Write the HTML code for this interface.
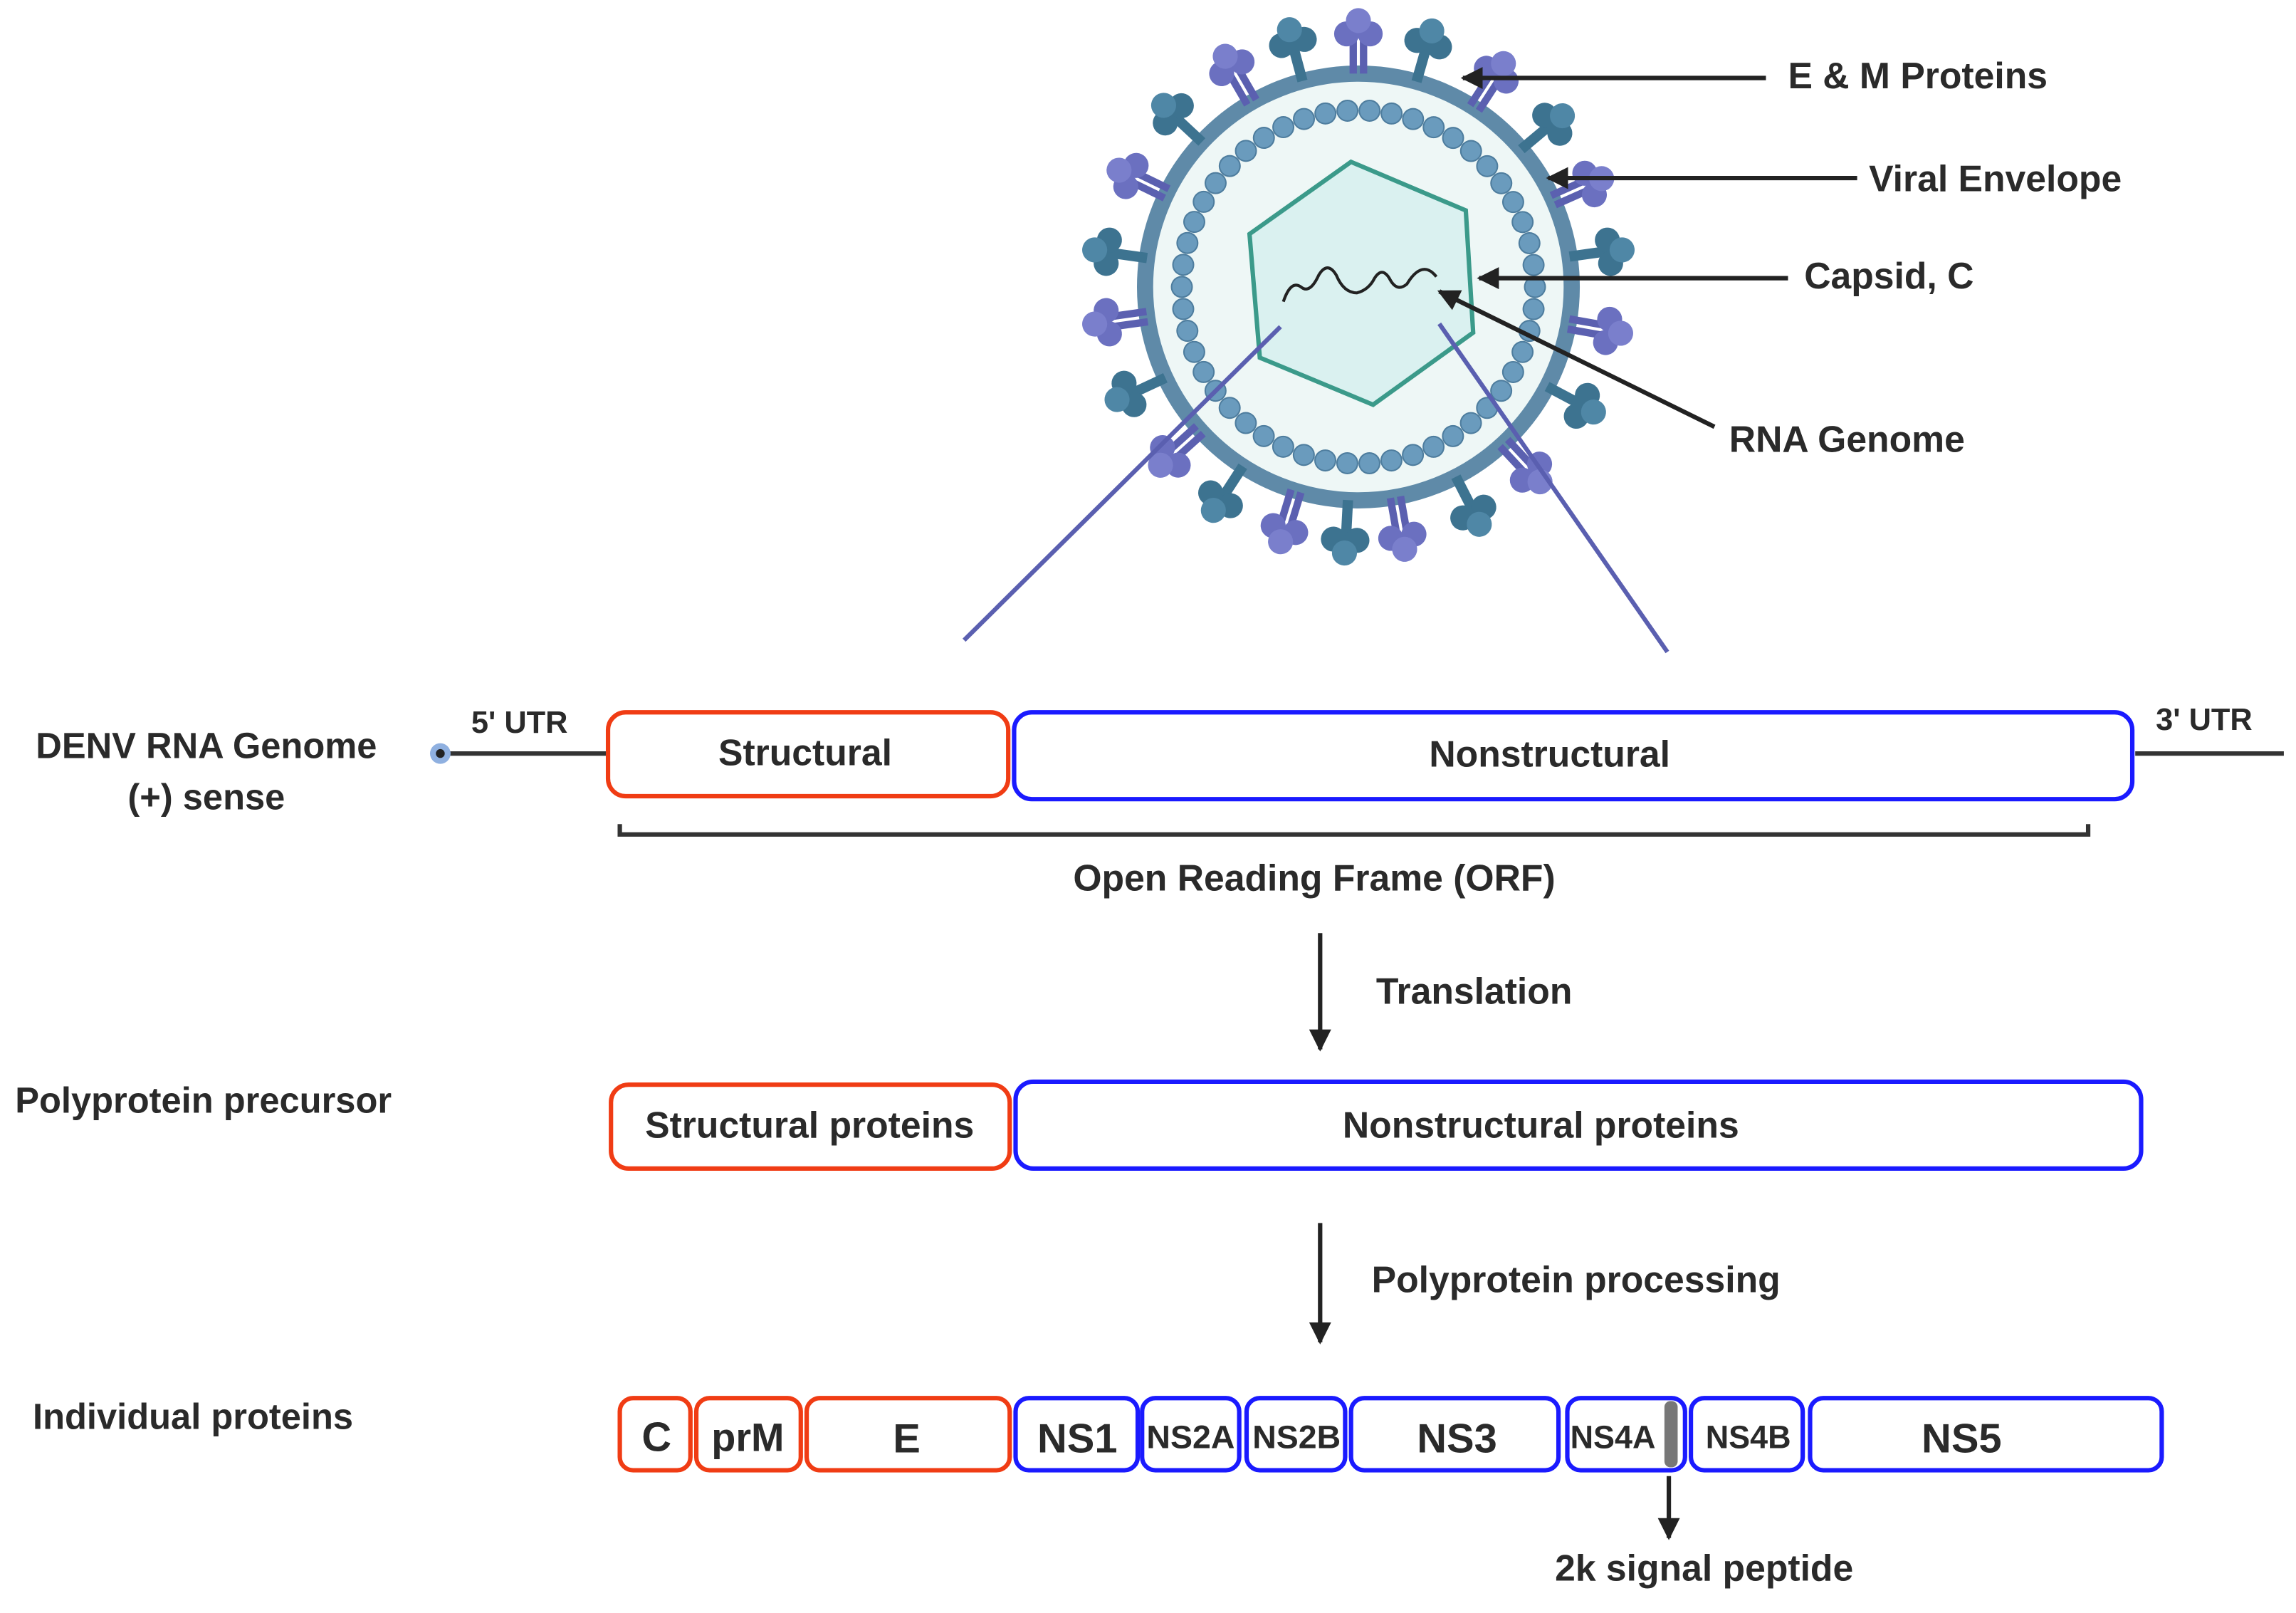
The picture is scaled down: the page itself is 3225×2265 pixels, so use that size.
<!DOCTYPE html>
<html><head><meta charset="utf-8"><style>
html,body{margin:0;padding:0;background:#fff}
svg{display:block}
text{font-family:"Liberation Sans",sans-serif;font-weight:bold;fill:#2a2a2a}
</style></head><body>
<svg width="3225" height="2265" viewBox="0 0 1560 1096" xmlns="http://www.w3.org/2000/svg">
<defs>
<marker id="ah" viewBox="0 0 10 10" refX="9" refY="5" markerWidth="5" markerHeight="5" orient="auto-start-reverse"><path d="M0,0 L10,5 L0,10 z" fill="#222"/></marker>
<g id="spT"><rect x="919" y="22" width="7" height="28" fill="#3d7390"/><circle cx="915" cy="23" r="8.5" fill="#3d7390"/><circle cx="931" cy="23" r="8.5" fill="#3d7390"/><circle cx="923" cy="14" r="8.5" fill="#4f87a6"/></g>
<g id="spP"><rect x="917" y="22" width="5" height="28" fill="#5b60b0"/><rect x="924" y="22" width="5" height="28" fill="#5b60b0"/><circle cx="915" cy="23" r="8.5" fill="#6b70c0"/><circle cx="931" cy="23" r="8.5" fill="#6b70c0"/><circle cx="923" cy="14" r="8.5" fill="#7a7fcc"/></g>
</defs>
<!-- virus -->
<circle cx="923" cy="195" r="145" fill="#eef7f6" stroke="#5f8aa8" stroke-width="11"/>
<circle cx="923" cy="195" r="120" fill="none" stroke="#4e7d9e" stroke-width="15" stroke-linecap="round" stroke-dasharray="0 15.08"/>
<circle cx="923" cy="195" r="120" fill="none" stroke="#6a9bbd" stroke-width="13" stroke-linecap="round" stroke-dasharray="0 15.08"/>
<g>
<use href="#spP" transform="rotate(0 923 195)"/>
<use href="#spT" transform="rotate(16 923 195)"/>
<use href="#spP" transform="rotate(33 923 195)"/>
<use href="#spT" transform="rotate(50 923 195)"/>
<use href="#spP" transform="rotate(66 923 195)"/>
<use href="#spT" transform="rotate(82 923 195)"/>
<use href="#spP" transform="rotate(100 923 195)"/>
<use href="#spT" transform="rotate(118 923 195)"/>
<use href="#spP" transform="rotate(137 923 195)"/>
<use href="#spT" transform="rotate(153 923 195)"/>
<use href="#spP" transform="rotate(170 923 195)"/>
<use href="#spT" transform="rotate(183 923 195)"/>
<use href="#spP" transform="rotate(197 923 195)"/>
<use href="#spT" transform="rotate(213 923 195)"/>
<use href="#spP" transform="rotate(228 923 195)"/>
<use href="#spT" transform="rotate(245 923 195)"/>
<use href="#spP" transform="rotate(262 923 195)"/>
<use href="#spT" transform="rotate(278 923 195)"/>
<use href="#spP" transform="rotate(296 923 195)"/>
<use href="#spT" transform="rotate(313 923 195)"/>
<use href="#spP" transform="rotate(330 923 195)"/>
<use href="#spT" transform="rotate(345 923 195)"/>
</g>
<polygon points="918,110 996,143 1001,226 933,275 856,243 849,159" fill="#daf1f0" stroke="#3b9a8a" stroke-width="3"/>
<path d="M872,205 q5,-15 12,-10 q6,5 12,-8 q6,-10 12,0 q5,12 14,12 q8,-2 12,-10 q5,-8 10,0 q5,10 12,4 q6,-10 12,-10 q4,0 8,5" fill="none" stroke="#222" stroke-width="2"/>
<line x1="870" y1="222" x2="655" y2="435" stroke="#5a5fb0" stroke-width="3"/>
<line x1="978" y1="220" x2="1133" y2="443" stroke="#5a5fb0" stroke-width="3"/>
<!-- pointer arrows -->
<g stroke="#222" stroke-width="3" marker-end="url(#ah)">
<line x1="1200" y1="53" x2="994" y2="53"/>
<line x1="1262" y1="121" x2="1052" y2="121"/>
<line x1="1215" y1="189" x2="1005" y2="189"/>
<line x1="1165" y1="290" x2="978" y2="198"/>
</g>
<text x="1215" y="60" font-size="25">E &amp; M Proteins</text>
<text x="1270" y="130" font-size="25">Viral Envelope</text>
<text x="1226" y="196" font-size="25">Capsid, C</text>
<text x="1175" y="307" font-size="25">RNA Genome</text>
<!-- genome row -->
<text x="140" y="515" font-size="24.5" text-anchor="middle">DENV RNA Genome</text>
<text x="140" y="550" font-size="24.5" text-anchor="middle">(+) sense</text>
<line x1="299" y1="512" x2="413" y2="512" stroke="#333" stroke-width="3"/>
<circle cx="299" cy="512" r="7" fill="#8fb0e0"/><circle cx="299" cy="512" r="3" fill="#222"/>
<line x1="1451" y1="512" x2="1552" y2="512" stroke="#333" stroke-width="3"/>
<text x="320" y="498" font-size="21">5' UTR</text>
<text x="1465" y="496" font-size="21">3' UTR</text>
<rect x="413" y="484" width="272" height="57" rx="12" fill="#fff" stroke="#f03c14" stroke-width="3"/>
<rect x="689" y="484" width="760" height="59" rx="12" fill="#fff" stroke="#1a1aff" stroke-width="3"/>
<text x="547" y="520" font-size="25" text-anchor="middle">Structural</text>
<text x="1053" y="521" font-size="25" text-anchor="middle">Nonstructural</text>
<path d="M421,560 V567 H1419 V560" fill="none" stroke="#333" stroke-width="3"/>
<text x="893" y="605" font-size="25" text-anchor="middle">Open Reading Frame (ORF)</text>
<line x1="897" y1="634" x2="897" y2="713" stroke="#222" stroke-width="3" marker-end="url(#ah)"/>
<text x="935" y="682" font-size="25">Translation</text>
<!-- polyprotein -->
<text x="10" y="756" font-size="24.5">Polyprotein precursor</text>
<rect x="415" y="737" width="271" height="57" rx="12" fill="#fff" stroke="#f03c14" stroke-width="3"/>
<rect x="690" y="735" width="765" height="59" rx="12" fill="#fff" stroke="#1a1aff" stroke-width="3"/>
<text x="550" y="773" font-size="25" text-anchor="middle">Structural proteins</text>
<text x="1047" y="773" font-size="25" text-anchor="middle">Nonstructural proteins</text>
<line x1="897" y1="831" x2="897" y2="912" stroke="#222" stroke-width="3" marker-end="url(#ah)"/>
<text x="932" y="878" font-size="25">Polyprotein processing</text>
<!-- individual -->
<text x="22" y="971" font-size="24.5">Individual proteins</text>
<g fill="#fff" stroke-width="3">
<rect x="421" y="950" width="48" height="49" rx="9" stroke="#f03c14"/>
<rect x="473" y="950" width="71" height="49" rx="9" stroke="#f03c14"/>
<rect x="548" y="950" width="138" height="49" rx="9" stroke="#f03c14"/>
<rect x="690" y="950" width="83" height="49" rx="9" stroke="#1a1aff"/>
<rect x="776" y="950" width="66" height="49" rx="9" stroke="#1a1aff"/>
<rect x="847" y="950" width="67" height="49" rx="9" stroke="#1a1aff"/>
<rect x="918" y="950" width="141" height="49" rx="9" stroke="#1a1aff"/>
<rect x="1065" y="950" width="80" height="49" rx="9" stroke="#1a1aff"/>
<rect x="1149" y="950" width="76" height="49" rx="9" stroke="#1a1aff"/>
<rect x="1230" y="950" width="239" height="49" rx="9" stroke="#1a1aff"/>
</g>
<rect x="1131" y="952" width="9" height="45" rx="4" fill="#777"/>
<text x="446" y="986" font-size="28" text-anchor="middle">C</text>
<text x="508" y="986" font-size="27" text-anchor="middle">prM</text>
<text x="616" y="987" font-size="28" text-anchor="middle">E</text>
<text x="732" y="987" font-size="28" text-anchor="middle">NS1</text>
<text x="809" y="984" font-size="22" text-anchor="middle" textLength="60" lengthAdjust="spacingAndGlyphs">NS2A</text>
<text x="881" y="984" font-size="22" text-anchor="middle" textLength="60" lengthAdjust="spacingAndGlyphs">NS2B</text>
<text x="990" y="987" font-size="28" text-anchor="middle">NS3</text>
<text x="1096" y="984" font-size="22" text-anchor="middle" textLength="58" lengthAdjust="spacingAndGlyphs">NS4A</text>
<text x="1188" y="984" font-size="22" text-anchor="middle" textLength="58" lengthAdjust="spacingAndGlyphs">NS4B</text>
<text x="1333" y="987" font-size="28" text-anchor="middle">NS5</text>
<line x1="1134" y1="1003" x2="1134" y2="1045" stroke="#222" stroke-width="3" marker-end="url(#ah)"/>
<text x="1158" y="1074" font-size="25" text-anchor="middle">2k signal peptide</text>
</svg>
</body></html>
